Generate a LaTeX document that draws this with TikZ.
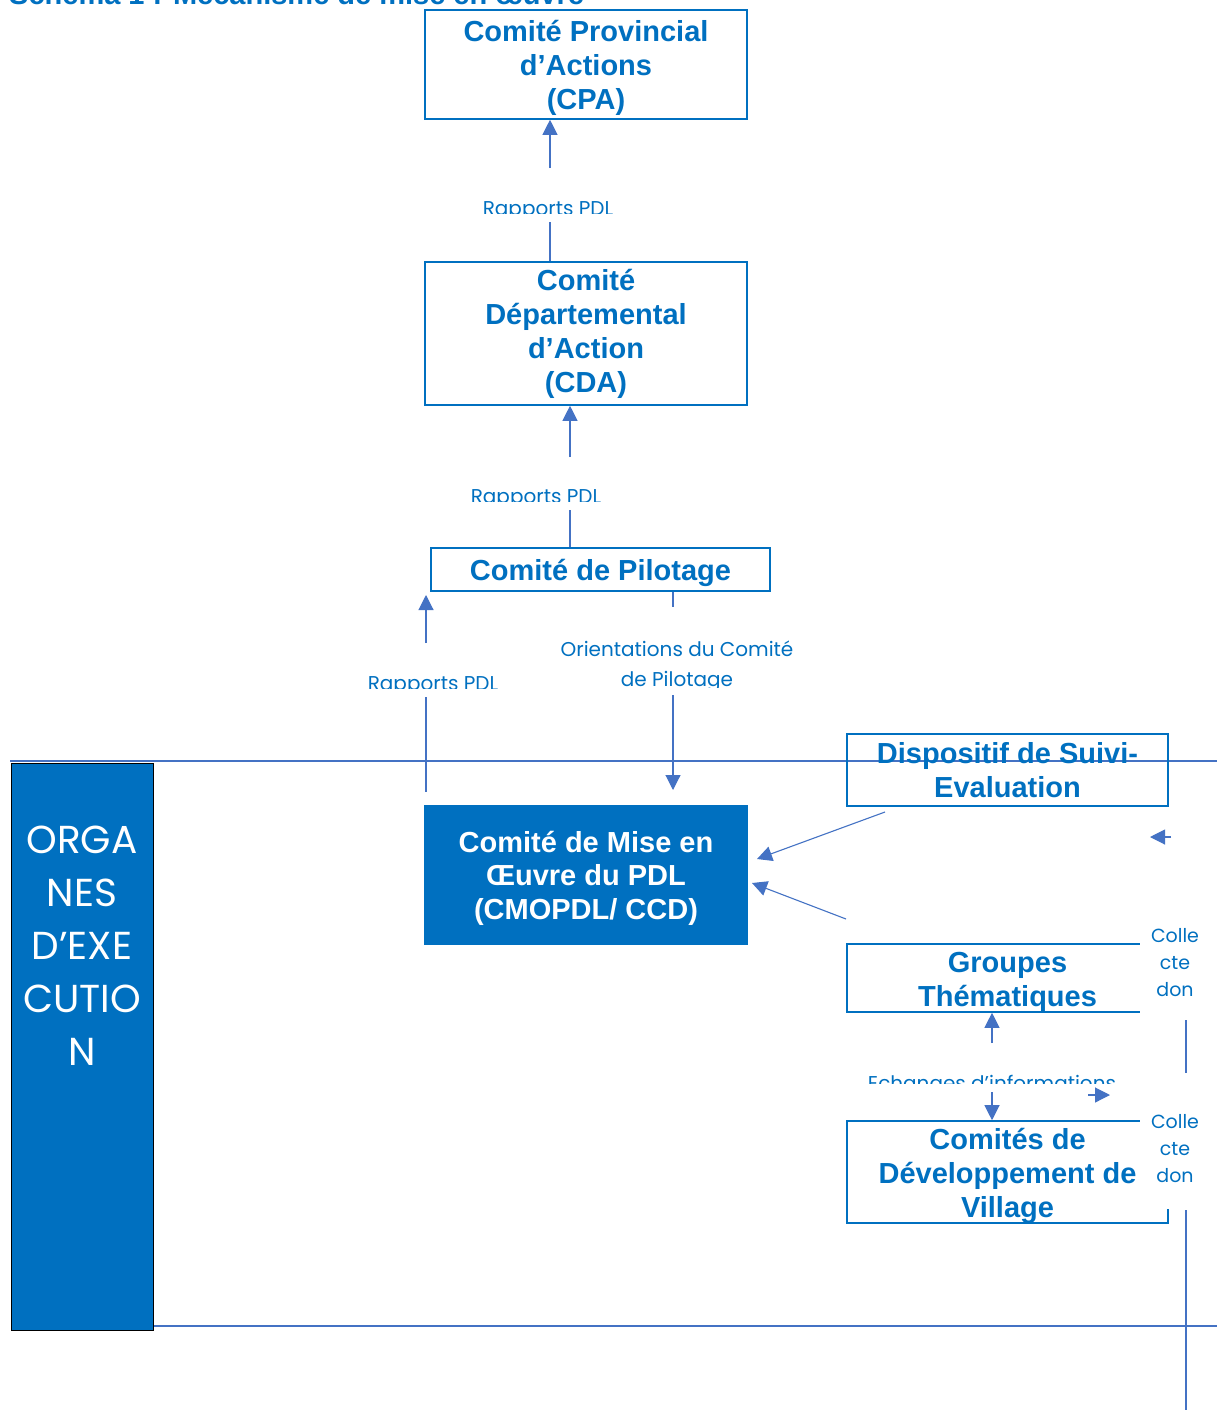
\documentclass[tikz,border=0pt]{standalone}
\usepackage{fontspec}
\setmainfont{Liberation Sans}
\newfontfamily\thin{Poppins}
\usetikzlibrary{arrows.meta}
\definecolor{nblue}{HTML}{0070C0}
\definecolor{lblue}{HTML}{4472C4}
\tikzset{
  box/.style={draw=nblue, line width=1.6pt, inner sep=0pt},
  bt/.style={font=\bfseries\fontsize{29}{34}\selectfont, text=nblue, align=center, inner sep=0pt},
  wt/.style={font=\bfseries\fontsize{29}{33.5}\selectfont, text=white, align=center, inner sep=0pt},
  lab/.style={font=\thin\fontsize{20}{30}\selectfont, text=nblue, align=center, inner sep=0pt},
  col/.style={font=\thin\fontsize{19}{27}\selectfont, text=nblue, align=center, inner sep=0pt},
  ln/.style={draw=lblue, line width=1.1pt},
  arr/.style={draw=lblue, line width=1.1pt, -{Triangle[length=15pt,width=15pt]}},
  sep/.style={draw=lblue, line width=1.8pt},
}
\begin{document}
\begin{tikzpicture}[x=1pt,y=-1pt]
\useasboundingbox (0,0) rectangle (1217,1410);
\clip (0,0) rectangle (1217,1410);
\fill[white] (0,0) rectangle (1217,1410);

% title (cut by the top edge)
\node[anchor=base west, inner sep=0pt, font=\bfseries\fontsize{29}{34}\selectfont, text=nblue] (title) at (9,5) {Schéma 1 : Mécanisme de mise en œuvre};

% separators
\coordinate (s1a) at (10,761); \coordinate (s1b) at (1217,761);
\coordinate (s2a) at (153,1326); \coordinate (s2b) at (1217,1326);
\draw[sep] (s1a) -- (s1b);
\draw[sep] (s2a) -- (s2b);

% left band
\node[draw=black, line width=0.8pt, fill=nblue, minimum width=142pt, minimum height=567pt, inner sep=0pt] (org) at (82,1046.5) {};
\node[font=\thin\fontsize{39}{53}\selectfont, text=white, align=center, inner sep=0pt] (orgt) at (82,946) {ORGA\\NES\\D’EXE\\CUTIO\\N};

% boxes
\node[box, minimum width=322pt, minimum height=109pt] (cpa) at (586,64.5) {};
\node[bt] (cpat) at (586,68) {Comité Provincial\\d’Actions\\(CPA)};
\node[box, minimum width=322pt, minimum height=143pt] (cda) at (586,333.5) {};
\node[bt] (cdat) at (586,333.5) {Comité\\Départemental\\d’Action\\(CDA)};
\node[box, minimum width=339pt, minimum height=43pt] (pil) at (600.5,569.5) {};
\node[bt] (pilt) at (600.5,572.5) {Comité de Pilotage};
\node[box, fill=nblue, minimum width=322pt, minimum height=138pt] (cmo) at (586,875) {};
\node[wt] (cmot) at (586,878) {Comité de Mise en\\Œuvre du PDL\\(CMOPDL/ CCD)};
\node[box, minimum width=321pt, minimum height=72pt] (dse) at (1007.5,770) {};
\node[bt] (dset) at (1007.5,770) {Dispositif de Suivi-\\Evaluation};
\node[box, minimum width=321pt, minimum height=68pt] (grp) at (1007.5,978) {};
\node[bt] (grpt) at (1007.5,982) {Groupes\\Thématiques};
\node[box, minimum width=321pt, minimum height=102pt] (cdv) at (1007.5,1172) {};
\node[bt] (cdvt) at (1007.5,1176) {Comités de\\Développement de\\Village};

% Collecte donnees labels (cover the box corners)
\fill[white] (1140,920) rectangle (1210,1015);
\fill[white] (1140,1100) rectangle (1210,1209);
\node[col] (col1) at (1175,963) {Colle\\cte\\don};
\node[col] (col2) at (1175,1149) {Colle\\cte\\don};
\coordinate (q1) at (1186,1020); \coordinate (q2) at (1186,1073);
\coordinate (q3) at (1186,1210); \coordinate (q4) at (1186,1410);
\draw[ln] (q1) -- (q2);
\draw[ln] (q3) -- (q4);

% CDA -> CPA
\coordinate (p1) at (550,168); \coordinate (p2) at (550,222);
\draw[arr] (p1) -- (p1 |- cpa.south);
\draw[ln] (p2) -- (p2 |- cda.north);
\begin{scope}
\clip (440,180) rectangle (660,213);
\node[lab, anchor=base] (rp1) at (548,215) {Rapports PDL};
\end{scope}

% Pilotage -> CDA
\coordinate (p3) at (570,457); \coordinate (p4) at (570,510);
\draw[arr] (p3) -- (p3 |- cda.south);
\draw[ln] (p4) -- (p4 |- pil.north);
\begin{scope}
\clip (440,470) rectangle (640,501);
\node[lab, anchor=base] (rp2) at (536,503) {Rapports PDL};
\end{scope}

% CMO -> Pilotage
\coordinate (p5) at (426,643); \coordinate (p5t) at (426,595);
\coordinate (p6) at (426,697); \coordinate (p6b) at (426,792);
\draw[arr] (p5) -- (p5t);
\draw[ln] (p6) -- (p6b);
\begin{scope}
\clip (340,660) rectangle (530,688);
\node[lab, anchor=base] (rp3) at (433,690) {Rapports PDL};
\end{scope}

% Pilotage -> CMO
\coordinate (o1) at (673,607); \coordinate (o2) at (673,695); \coordinate (o2t) at (673,790);
\draw[ln] (o1 |- pil.south) -- (o1);
\draw[arr] (o2) -- (o2t);
\begin{scope}
\clip (540,625) rectangle (820,687);
\node[lab, anchor=base] (or1) at (677,656) {Orientations du Comité};
\node[lab, anchor=base] (or2) at (677,686) {de Pilotage};
\end{scope}

% to CMO from right
\coordinate (d1) at (885,812); \coordinate (d1t) at (757,859);
\coordinate (g1) at (846,919); \coordinate (g1t) at (752,883);
\draw[arr] (d1) -- (d1t);
\draw[arr] (g1) -- (g1t);
\coordinate (l1) at (1171,837); \coordinate (l1t) at (1150,837);
\draw[arr] (l1) -- (l1t);

% exchanges
\coordinate (e1) at (992,1043); \coordinate (e2) at (992,1092);
\draw[arr] (e1) -- (e1 |- grp.south);
\draw[arr] (e2) -- (e2 |- cdv.north);
\begin{scope}
\clip (850,1060) rectangle (1140,1083);
\node[lab, anchor=base] (ech) at (992,1090) {Echanges d’informations};
\end{scope}
\coordinate (x1) at (1088,1095); \coordinate (x1t) at (1110,1095);
\draw[arr] (x1) -- (x1t);
\end{tikzpicture}
\end{document}
